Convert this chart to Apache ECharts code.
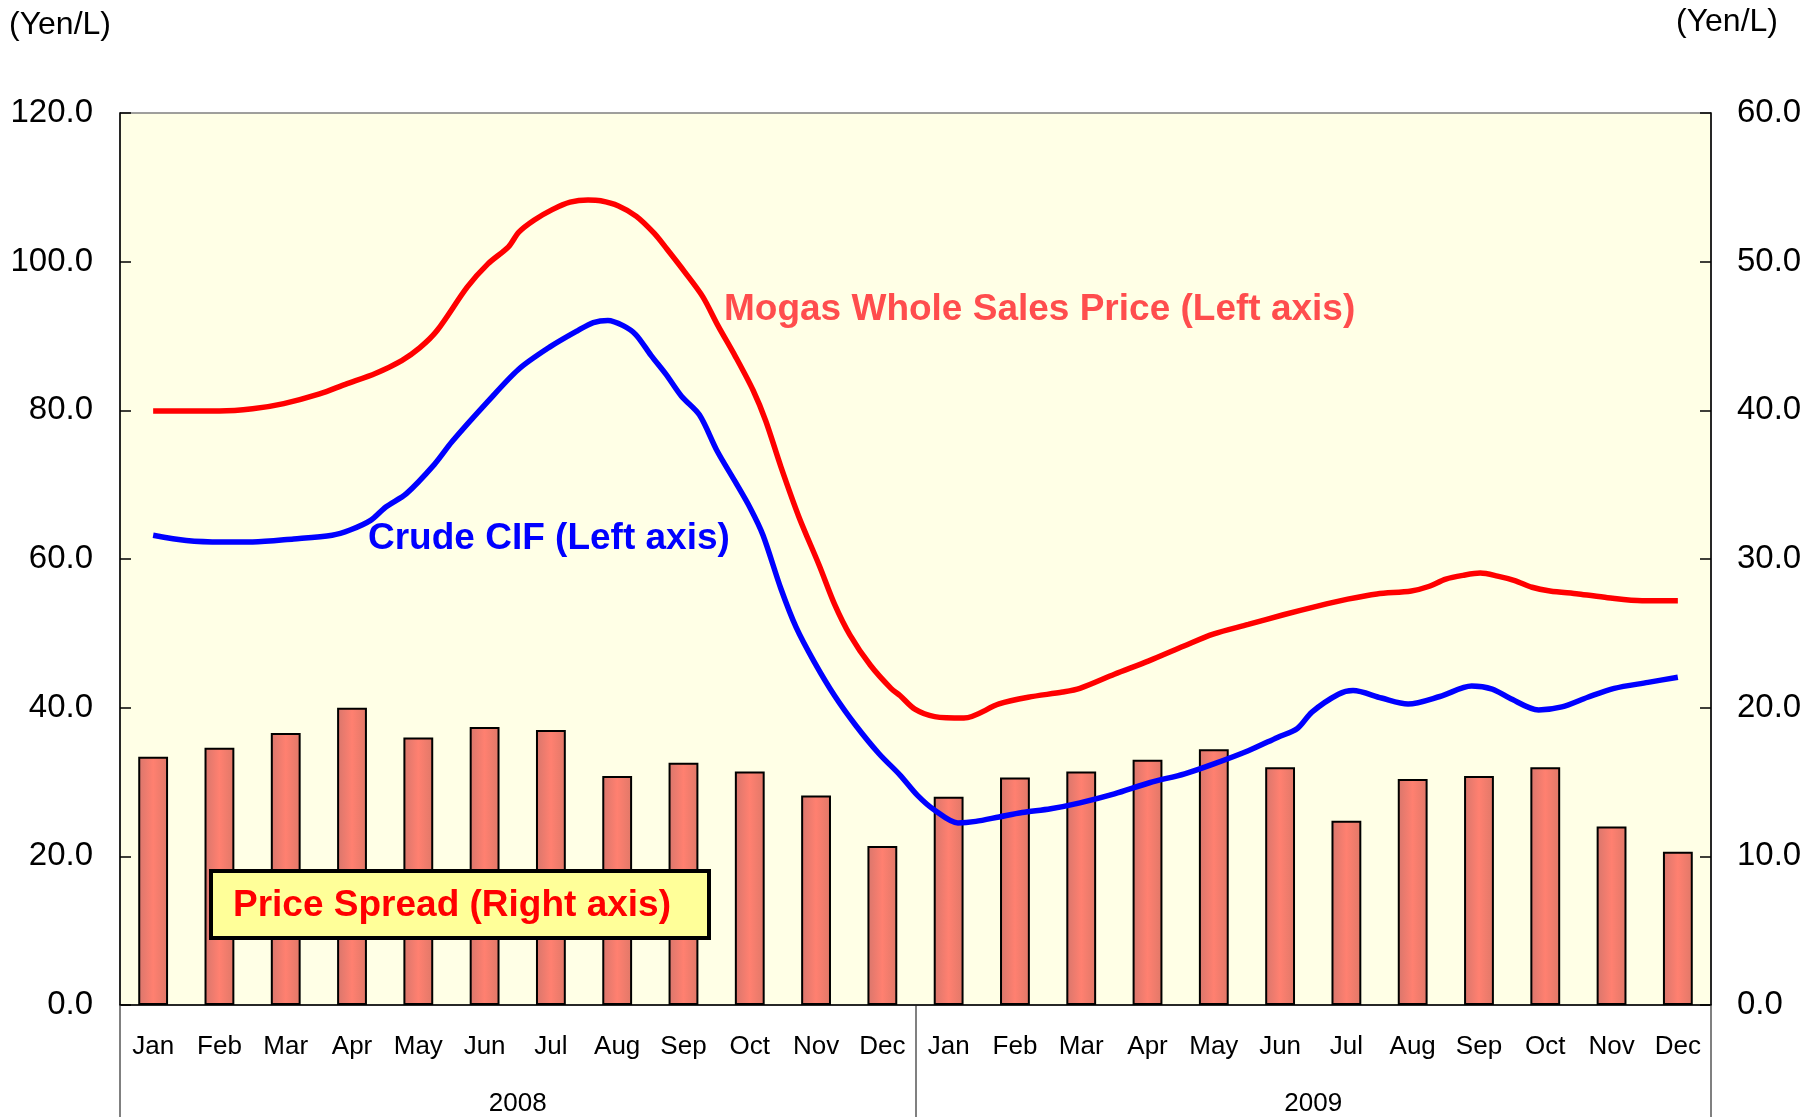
<!DOCTYPE html>
<html>
<head>
<meta charset="utf-8">
<script src="https://cdn.jsdelivr.net/npm/echarts@6/dist/echarts.min.js"></script>
<style>
html,body{margin:0;padding:0;background:#fff;}
#chart{width:1810px;height:1117px;}
</style>
</head>
<body>
<div id="chart"></div>
<script>
// ---- data ----
const months = ['Jan','Feb','Mar','Apr','May','Jun','Jul','Aug','Sep','Oct','Nov','Dec',
                'Jan','Feb','Mar','Apr','May','Jun','Jul','Aug','Sep','Oct','Nov','Dec'];
const years = ['2008', '2009'];
const leftTicks = [0, 20, 40, 60, 80, 100, 120];
const rightTicks = [0, 10, 20, 30, 40, 50, 60];

// Price spread (right axis), monthly
const priceSpread = [16.7, 17.3, 18.3, 20.0, 18.0, 18.7, 18.5, 15.4, 16.3, 15.7, 14.1, 10.7,
                     14.0, 15.3, 15.7, 16.5, 17.2, 16.0, 12.4, 15.2, 15.4, 16.0, 12.0, 10.3];

// Mogas whole sales price (left axis): [month position, value]
const mogas = [
 [0.0,79.9],[0.5,79.9],[1.0,79.9],[1.5,80.2],[1.97,80.9],[2.51,82.2],[2.9,83.5],[3.36,85.0],
 [3.75,86.7],[4.02,88.4],[4.28,90.7],[4.74,96.6],[5.05,99.7],[5.36,102.0],[5.52,104.0],[5.75,105.6],
 [6.02,107.0],[6.29,108.0],[6.56,108.3],[6.75,108.2],[7.02,107.5],[7.29,106.1],[7.56,103.8],[7.75,101.7],
 [8.02,98.6],[8.29,95.3],[8.52,91.4],[8.78,87.3],[9.05,82.7],[9.24,78.6],[9.47,72.4],[9.74,65.7],
 [10.05,59.1],[10.28,53.9],[10.51,49.8],[10.82,45.7],[11.13,42.6],[11.27,41.6],[11.49,39.8],[11.79,38.8],
 [12.23,38.6],[12.76,40.5],[13.2,41.4],[13.72,42.1],[13.98,42.6],[14.5,44.5],[15.02,46.3],[15.55,48.3],
 [15.99,49.9],[16.52,51.2],[17.05,52.5],[17.58,53.7],[18.02,54.6],[18.46,55.3],[18.98,55.7],[19.24,56.3],
 [19.5,57.3],[19.76,57.8],[20.02,58.1],[20.28,57.7],[20.54,57.1],[20.8,56.2],[21.07,55.7],[21.5,55.3],
 [21.94,54.8],[22.46,54.4],[23.0,54.4]
];

// Crude CIF (left axis): [month position, value]
const crude = [
 [0.0,63.2],[0.5,62.5],[1.04,62.3],[1.5,62.3],[2.12,62.7],[2.7,63.2],[2.97,63.9],[3.28,65.2],
 [3.51,67.0],[3.82,68.8],[4.24,72.7],[4.51,75.8],[5.05,81.2],[5.51,85.5],[5.98,88.5],[6.4,90.7],
 [6.64,91.8],[6.86,92.1],[7.09,91.4],[7.28,90.2],[7.51,87.4],[7.74,84.8],[7.97,81.9],[8.24,79.4],
 [8.51,74.5],[8.78,70.4],[9.01,66.8],[9.2,63.2],[9.47,56.0],[9.7,50.8],[9.97,46.2],[10.28,41.6],
 [10.6,37.6],[10.95,33.8],[11.27,30.9],[11.53,28.2],[11.79,26.2],[12.14,24.5],[12.41,24.7],[12.76,25.3],
 [13.11,25.9],[13.54,26.4],[13.98,27.2],[14.5,28.4],[15.03,29.9],[15.56,31.1],[15.99,32.4],[16.52,34.2],
 [16.96,36.0],[17.26,37.2],[17.48,39.4],[17.88,41.8],[18.1,42.3],[18.53,41.3],[18.93,40.5],[19.41,41.5],
 [19.89,42.9],[20.2,42.5],[20.46,41.3],[20.9,39.7],[21.25,40.1],[21.64,41.4],[22.04,42.6],[22.55,43.4],
 [23.0,44.1]
];

const FONT = '"Liberation Sans", Arial, Helvetica, sans-serif';

const chart = echarts.init(document.getElementById('chart'), null, {renderer: 'canvas'});

const option = {
  animation: false,
  backgroundColor: '#ffffff',
  grid: {
    left: 120, right: 99, top: 113, bottom: 110.5,
    show: true, backgroundColor: '#FFFFE6', borderColor: '#808080', borderWidth: 1.5
  },
  xAxis: [
    {
      type: 'category', data: months, position: 'bottom', gridIndex: 0,
      axisLine: {show: true, onZero: false, lineStyle: {color: '#000000', width: 1.5}},
      axisTick: {show: false},
      axisLabel: {color: '#000', fontFamily: FONT, fontSize: 26, margin: 29, interval: 0},
      splitLine: {show: false}, z: 5
    },
    {
      type: 'value', min: -0.5, max: 23.5, show: false, gridIndex: 0
    },
    {
      type: 'category', data: years, position: 'bottom', gridIndex: 0,
      axisLine: {show: false, onZero: false},
      axisTick: {show: true, inside: false, length: 112, lineStyle: {color: '#808080', width: 2}},
      axisLabel: {color: '#000', fontFamily: FONT, fontSize: 26, margin: 86, interval: 0},
      splitLine: {show: false}
    }
  ],
  yAxis: [
    {
      type: 'value', min: leftTicks[0], max: leftTicks[leftTicks.length - 1], interval: 20,
      position: 'left',
      axisLine: {show: true, onZero: false, lineStyle: {color: '#000', width: 1.5}},
      axisTick: {show: true, inside: true, length: 11, lineStyle: {color: '#000', width: 1.5}},
      axisLabel: {color: '#000', fontFamily: FONT, fontSize: 33, margin: 27,
                  formatter: v => v.toFixed(1)},
      splitLine: {show: false}
    },
    {
      type: 'value', min: rightTicks[0], max: rightTicks[rightTicks.length - 1], interval: 10,
      position: 'right',
      axisLine: {show: true, onZero: false, lineStyle: {color: '#000', width: 1.5}},
      axisTick: {show: true, inside: true, length: 11, lineStyle: {color: '#000', width: 1.5}},
      axisLabel: {color: '#000', fontFamily: FONT, fontSize: 33, margin: 26,
                  formatter: v => v.toFixed(1)},
      splitLine: {show: false}
    }
  ],
  series: [
    {
      name: 'Price Spread (Right axis)', type: 'bar',
      xAxisIndex: 0, yAxisIndex: 1, data: priceSpread,
      barWidth: '45%',
      itemStyle: {
        color: new echarts.graphic.LinearGradient(0, 0, 1, 0, [
          {offset: 0, color: '#D8766C'},
          {offset: 0.5, color: '#FF8070'},
          {offset: 1, color: '#E07868'}
        ]),
        borderColor: '#000', borderWidth: 2
      },
      z: 2
    },
    {
      name: 'Mogas Whole Sales Price (Left axis)', type: 'line',
      xAxisIndex: 1, yAxisIndex: 0, data: mogas,
      smooth: 0.3, symbol: 'none',
      lineStyle: {color: '#FF0000', width: 5.5}, z: 4
    },
    {
      name: 'Crude CIF (Left axis)', type: 'line',
      xAxisIndex: 1, yAxisIndex: 0, data: crude,
      smooth: 0.3, symbol: 'none',
      lineStyle: {color: '#0000FF', width: 5.5}, z: 4
    }
  ],
  graphic: [
    {type: 'text', x: 9, y: 25, style: {text: '(Yen/L)', fill: '#000', font: '32px ' + FONT, verticalAlign: 'middle'}},
    {type: 'text', x: 1778, y: 22, style: {text: '(Yen/L)', fill: '#000', font: '32px ' + FONT, align: 'right', verticalAlign: 'middle'}},
    {type: 'text', x: 724, y: 310, style: {text: 'Mogas Whole Sales Price (Left axis)', fill: '#FF4D4D',
      font: 'bold 37px ' + FONT, verticalAlign: 'middle'}, z: 10},
    {type: 'text', x: 368, y: 539, style: {text: 'Crude CIF (Left axis)', fill: '#0000FF',
      font: 'bold 37px ' + FONT, verticalAlign: 'middle'}, z: 10},
    {type: 'rect', shape: {x: 211, y: 871, width: 498, height: 67},
      style: {fill: '#FFFF99', stroke: '#000', lineWidth: 4}, z: 10},
    {type: 'text', x: 233, y: 906, style: {text: 'Price Spread (Right axis)', fill: '#FF0000',
      font: 'bold 37px ' + FONT, verticalAlign: 'middle'}, z: 11}
  ]
};

chart.setOption(option);
</script>
</body>
</html>
